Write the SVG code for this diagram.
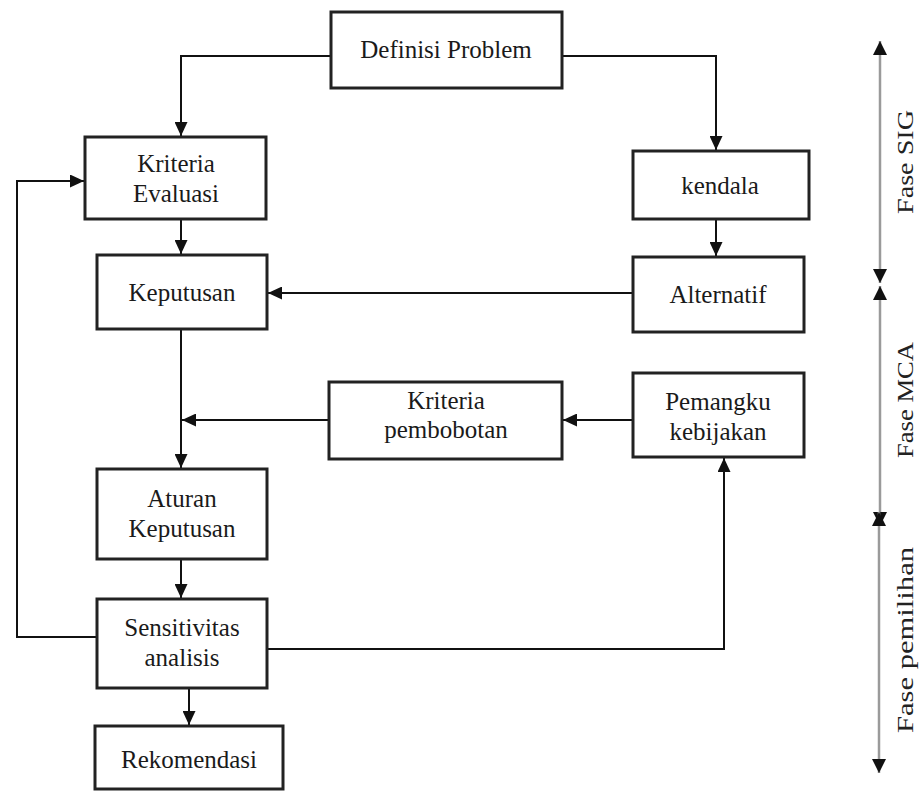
<svg xmlns="http://www.w3.org/2000/svg" width="923" height="794" viewBox="0 0 923 794">
  <defs>
    <marker id="arrow" viewBox="0 0 14 13" refX="14" refY="6.5" markerWidth="14" markerHeight="13" markerUnits="userSpaceOnUse" orient="auto">
      <path d="M0,0 L14,6.5 L0,13 Z" fill="#111"/>
    </marker>
    <marker id="phaseEnd" viewBox="0 0 14 14" refX="14" refY="7" markerWidth="14" markerHeight="14" markerUnits="userSpaceOnUse" orient="auto">
      <path d="M0,0 L14,7 L0,14 Z" fill="#111"/>
    </marker>
    <marker id="phaseStart" viewBox="0 0 14 14" refX="0" refY="7" markerWidth="14" markerHeight="14" markerUnits="userSpaceOnUse" orient="auto">
      <path d="M14,0 L0,7 L14,14 Z" fill="#111"/>
    </marker>
  </defs>
  <style>
    .box { fill: #fff; stroke: #222; stroke-width: 3; }
    .lbl { font-family: "Liberation Serif", "Times New Roman", serif; font-size: 25px; fill: #1a1a1a; text-anchor: middle; }
    .wire { fill: none; stroke: #111; stroke-width: 2; }
    .phase { fill: none; stroke: #9a9a9a; stroke-width: 2.5; }
    .ph { font-family: "Liberation Serif", "Times New Roman", serif; font-size: 23px; fill: #222; text-anchor: middle; }
  </style>
  <rect width="923" height="794" fill="#fff"/>

  <g id="connectors">
    <path class="wire" d="M331,56 H181 V136" marker-end="url(#arrow)"/>
    <path class="wire" d="M562,56 H716 V150" marker-end="url(#arrow)"/>
    <path class="wire" d="M181,219 V254" marker-end="url(#arrow)"/>
    <path class="wire" d="M716,219 V256" marker-end="url(#arrow)"/>
    <path class="wire" d="M633,293 H268" marker-end="url(#arrow)"/>
    <path class="wire" d="M181,329 V468" marker-end="url(#arrow)"/>
    <path class="wire" d="M329,420 H182" marker-end="url(#arrow)"/>
    <path class="wire" d="M633,420 H563" marker-end="url(#arrow)"/>
    <path class="wire" d="M181,559 V598" marker-end="url(#arrow)"/>
    <path class="wire" d="M189,688 V725" marker-end="url(#arrow)"/>
    <path class="wire" d="M97,637 H17 V181 H84" marker-end="url(#arrow)"/>
    <path class="wire" d="M267,649 H724 V458" marker-end="url(#arrow)"/>
  </g>

  <g id="definisi-problem">
    <rect class="box" x="331" y="12" width="231" height="76"/>
    <text class="lbl" x="446" y="58">Definisi Problem</text>
  </g>
  <g id="kriteria-evaluasi">
    <rect class="box" x="85" y="137" width="181" height="82"/>
    <text class="lbl" x="176" y="172">Kriteria</text>
    <text class="lbl" x="176" y="202">Evaluasi</text>
  </g>
  <g id="kendala">
    <rect class="box" x="633" y="151" width="176" height="68"/>
    <text class="lbl" x="720" y="194">kendala</text>
  </g>
  <g id="keputusan">
    <rect class="box" x="97" y="255" width="170" height="74"/>
    <text class="lbl" x="182" y="301">Keputusan</text>
  </g>
  <g id="alternatif">
    <rect class="box" x="633" y="257" width="171" height="75"/>
    <text class="lbl" x="718" y="303">Alternatif</text>
  </g>
  <g id="kriteria-pembobotan">
    <rect class="box" x="329" y="382" width="233" height="77"/>
    <text class="lbl" x="446" y="409">Kriteria</text>
    <text class="lbl" x="446" y="438">pembobotan</text>
  </g>
  <g id="pemangku-kebijakan">
    <rect class="box" x="633" y="373" width="171" height="84"/>
    <text class="lbl" x="718" y="410">Pemangku</text>
    <text class="lbl" x="718" y="440">kebijakan</text>
  </g>
  <g id="aturan-keputusan">
    <rect class="box" x="97" y="469" width="170" height="90"/>
    <text class="lbl" x="182" y="507">Aturan</text>
    <text class="lbl" x="182" y="537">Keputusan</text>
  </g>
  <g id="sensitivitas-analisis">
    <rect class="box" x="97" y="599" width="170" height="89"/>
    <text class="lbl" x="182" y="636">Sensitivitas</text>
    <text class="lbl" x="182" y="666">analisis</text>
  </g>
  <g id="rekomendasi">
    <rect class="box" x="95" y="726" width="188" height="63"/>
    <text class="lbl" x="189" y="768">Rekomendasi</text>
  </g>

  <g id="phases">
    <line class="phase" x1="880" y1="41" x2="880" y2="283" marker-start="url(#phaseStart)" marker-end="url(#phaseEnd)"/>
    <line class="phase" x1="880" y1="286" x2="880" y2="526" marker-start="url(#phaseStart)" marker-end="url(#phaseEnd)"/>
    <line class="phase" x1="879" y1="512" x2="879" y2="773" marker-start="url(#phaseStart)" marker-end="url(#phaseEnd)"/>
    <text class="ph" transform="translate(913,162) rotate(-90)" textLength="104" lengthAdjust="spacingAndGlyphs">Fase SIG</text>
    <text class="ph" transform="translate(913,400) rotate(-90)" textLength="116" lengthAdjust="spacingAndGlyphs">Fase MCA</text>
    <text class="ph" transform="translate(913,640) rotate(-90)" textLength="186" lengthAdjust="spacingAndGlyphs">Fase pemilihan</text>
  </g>
</svg>
